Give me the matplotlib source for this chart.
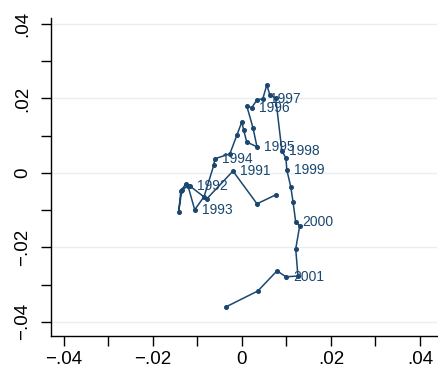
import numpy as np
import matplotlib
matplotlib.use("Agg")
import matplotlib.pyplot as plt
from matplotlib.ticker import FixedLocator, FuncFormatter

# path values (x, y)
x_vals = [0.0076, 0.0034, -0.0020, -0.0079, -0.0117, -0.0126, -0.0137, -0.0142,
          -0.0135, -0.0121, -0.0106, -0.0085, -0.0063, -0.0061, -0.0027, -0.0011,
          0.0000, 0.0004, 0.0011, 0.0034, 0.0025, 0.0011, 0.0022, 0.0034,
          0.0047, 0.0056, 0.0063, 0.0076, 0.0090, 0.0099, 0.0101, 0.0110,
          0.0115, 0.0121, 0.0130, 0.0121, 0.0126, 0.0099, 0.0079, 0.0036, -0.0036]
y_vals = [-0.0059, -0.0083, 0.0005, -0.0070, -0.0035, -0.0030, -0.0048, -0.0105,
          -0.0046, -0.0035, -0.0099, -0.0064, 0.0021, 0.0038, 0.0051, 0.0102,
          0.0137, 0.0115, 0.0083, 0.0070, 0.0121, 0.0180, 0.0175, 0.0196,
          0.0199, 0.0236, 0.0209, 0.0201, 0.0059, 0.0040, 0.0008, -0.0038,
          -0.0078, -0.0132, -0.0142, -0.0204, -0.0277, -0.0279, -0.0263, -0.0317, -0.0360]

# year labels and the point each one sits on
year_labels = ["1991", "1992", "1993", "1994", "1995", "1996",
               "1997", "1998", "1999", "2000", "2001"]
label_idx = [2, 4, 10, 13, 19, 22, 24, 28, 30, 33, 37]

major_ticks = [-0.04, -0.02, 0, 0.02, 0.04]
minor_ticks = [-0.03, -0.01, 0.01, 0.03]

navy = "#1a476f"
plt.rcParams['font.family'] = ['Liberation Sans', 'DejaVu Sans']

fig = plt.figure(figsize=(4.39, 3.75), dpi=100)
ax = fig.add_axes([0.116, 0.104, 0.879, 0.848])

ax.plot(x_vals, y_vals, color=navy, lw=1.1, marker="o", ms=2.6, zorder=3)
for lab, i in zip(year_labels, label_idx):
    ax.annotate(lab, (x_vals[i], y_vals[i]), xytext=(5, 0), textcoords="offset points",
                ha="left", va="center", fontsize=10, color=navy, zorder=4)

ax.set_xlim(-0.0429, 0.0438)
ax.set_ylim(-0.0438, 0.0416)

def fmt(v, pos):
    if abs(v) < 1e-12:
        return "0"
    s = f"{v:.2f}".replace("0.", ".")
    return s.replace("-", "\u2212")

for axis in (ax.xaxis, ax.yaxis):
    axis.set_major_locator(FixedLocator(major_ticks))
    axis.set_minor_locator(FixedLocator(minor_ticks))
    axis.set_major_formatter(FuncFormatter(fmt))

ax.tick_params(which="both", direction="out", length=7, width=1.0, color="black")
ax.tick_params(axis="x", labelsize=13.5, pad=4)
ax.tick_params(axis="y", labelsize=13.5, pad=7)
for t in ax.get_yticklabels():
    t.set_rotation(90)
    t.set_va("center")

ax.grid(axis="y", which="major", color="#e6eef0", lw=1.0, zorder=0)
ax.spines["top"].set_visible(False)
ax.spines["right"].set_visible(False)
ax.spines["left"].set_linewidth(1.0)
ax.spines["bottom"].set_linewidth(1.0)

fig.savefig("out.png", dpi=100)
